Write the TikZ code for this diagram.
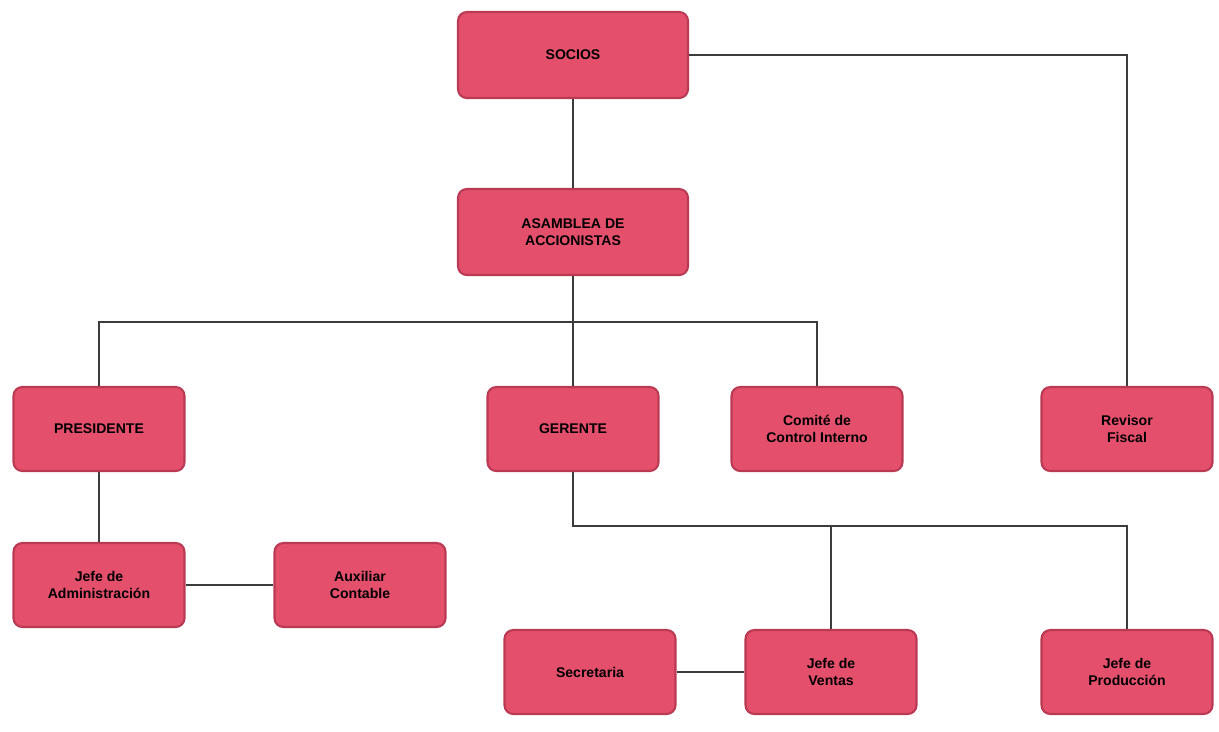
\documentclass[tikz,border=0pt]{standalone}
\usepackage{fontspec}
\setmainfont{Liberation Sans}
\usepackage{xcolor}
\usetikzlibrary{positioning}

\definecolor{boxred}{RGB}{228,80,108}
\definecolor{boxedge}{RGB}{186,58,84}
\definecolor{linegray}{RGB}{60,60,60}

\begin{document}
\begin{tikzpicture}[x=0.02cm,y=-0.02cm,
            thick,
            org node/.style={rectangle,rounded corners=5pt,draw=boxedge,line width=1.2pt,
              fill=boxred,minimum width=3.42cm,minimum height=1.68cm,align=center,
              font=\footnotesize\bfseries},
            big node/.style={org node,minimum width=4.6cm,minimum height=1.72cm},
            link/.style={draw=linegray,line width=0.8pt}]

        \useasboundingbox (0,0) rectangle (1219,731);

        \node[big node] (socios) at (573,55) {SOCIOS};
        \node[big node] (asamblea) at (573,232) {ASAMBLEA DE\\ACCIONISTAS};

        \node[org node] (presidente) at (99,429) {PRESIDENTE};
        \node[org node] (gerente) at (573,429) {GERENTE};
        \node[org node] (comite) at (817,429) {Comité de\\Control Interno};
        \node[org node] (revisor) at (1127,429) {Revisor\\Fiscal};

        \node[org node] (jadmin) at (99,585) {Jefe de\\Administración};
        \node[org node] (auxiliar) at (360,585) {Auxiliar\\Contable};

        \node[org node] (secretaria) at (590,672) {Secretaria};
        \node[org node] (jventas) at (831,672) {Jefe de\\Ventas};
        \node[org node] (jprod) at (1127,672) {Jefe de\\Producción};

        \coordinate (split) at (573,322);
        \coordinate (split2) at (573,526);

        \path[link]
        (socios.east) -| (revisor.north)
        (socios) -- (asamblea)
        (asamblea.south) -- (gerente.north)
        (presidente.north) |- (split) -| (comite.north)
        (presidente) -- (jadmin)
        (jadmin) -- (auxiliar)
        (gerente.south) -- (split2) -| (jventas.north)
        (split2) -| (jprod.north)
        (secretaria) -- (jventas);

    \end{tikzpicture}
\end{document}
